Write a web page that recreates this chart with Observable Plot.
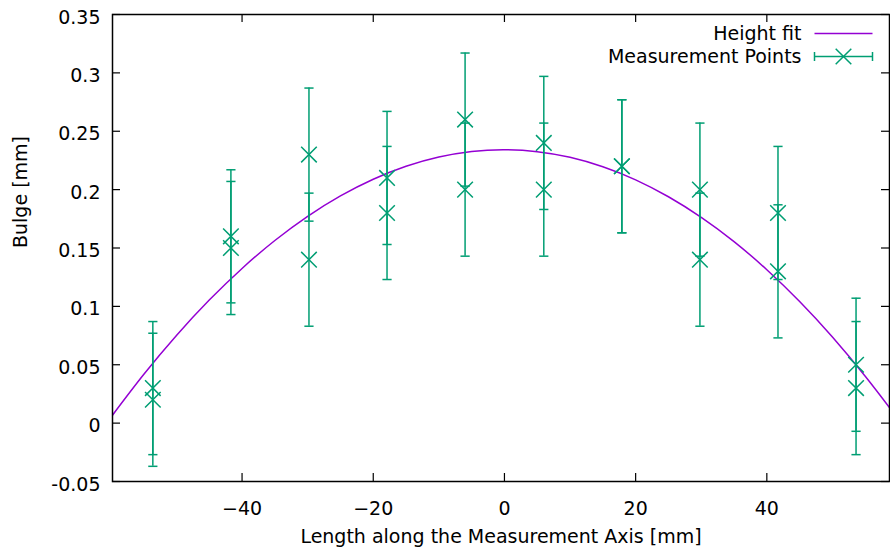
<!DOCTYPE html>
<html>
<head>
<meta charset="utf-8">
<script src="https://cdn.jsdelivr.net/npm/d3@7"></script>
<script src="https://cdn.jsdelivr.net/npm/@observablehq/plot@0.6"></script>
<style>
  html, body { margin: 0; padding: 0; background: #fff; }
  #chart svg { display: block; }
</style>
</head>
<body>
<div id="chart"></div>
<script>
// Measurement positions [mm] (two measurements per position)
const pointX = [-53.6, -53.6, -41.7, -41.7, -29.8, -29.8, -17.9, -17.9, -6.0, -6.0,
                 6.0, 6.0, 17.9, 17.9, 29.8, 29.8, 41.7, 41.7, 53.6, 53.6];
// Measured bulge [mm]
const pointY = [0.03, 0.02, 0.16, 0.15, 0.23, 0.14, 0.21, 0.18, 0.26, 0.20,
                0.24, 0.20, 0.22, 0.22, 0.20, 0.14, 0.18, 0.13, 0.05, 0.03];
// Uncertainty of each measurement [mm]
const pointErr = [0.057, 0.057, 0.057, 0.057, 0.057, 0.057, 0.057, 0.057, 0.057, 0.057,
                  0.057, 0.057, 0.057, 0.057, 0.057, 0.057, 0.057, 0.057, 0.057, 0.057];

// Height fit curve
const fitX = [-59.75, -55, -50, -45, -40, -35, -30, -25, -20, -15, -10, -5, 0,
              5, 10, 15, 20, 25, 30, 35, 40, 45, 50, 55, 58.7];
const fitY = [0.0068, 0.0416, 0.0751, 0.1054, 0.1325, 0.1564, 0.1771, 0.1946, 0.2089, 0.2200, 0.2279, 0.2327, 0.2342,
              0.2325, 0.2277, 0.2196, 0.2084, 0.1939, 0.1763, 0.1555, 0.1314, 0.1042, 0.0738, 0.0402, 0.0133];

// Axis ticks
const xTicks = [-40, -20, 0, 20, 40];
const yTicks = [-0.05, 0, 0.05, 0.1, 0.15, 0.2, 0.25, 0.3, 0.35];
const xDomain = [-59.75, 58.7];
const yDomain = [-0.05, 0.35];

const seriesNames = ["Height fit", "Measurement Points"];
const fitColor = "#9400d3";
const ptColor = "#009e73";

const points = pointX.map((x, i) => ({x, y: pointY[i], e: pointErr[i]}));
const fit = fitX.map((x, i) => ({x, y: fitY[i]}));

const W = 890, H = 554;
const mL = 112, mR = 1, mT = 14, mB = 73;
const pw = W - mL - mR, ph = H - mT - mB;
const tk = 8;
const FS = 19;
const FONT = "DejaVu Sans, sans-serif";

const crossSym = { draw(ctx) { const r = 7.8; ctx.moveTo(-r, -r); ctx.lineTo(r, r); ctx.moveTo(-r, r); ctx.lineTo(r, -r); } };
const capSym = { draw(ctx) { ctx.moveTo(-4.6, 0); ctx.lineTo(4.6, 0); } };
const legLineSym = { draw(ctx) { ctx.moveTo(-29, 0); ctx.lineTo(29, 0); } };
const legErrSym = { draw(ctx) {
  ctx.moveTo(-29, 0); ctx.lineTo(29, 0);
  ctx.moveTo(-29, -4.6); ctx.lineTo(-29, 4.6);
  ctx.moveTo(29, -4.6); ctx.lineTo(29, 4.6);
} };

const chart = Plot.plot({
  width: W, height: H,
  marginLeft: mL, marginRight: mR, marginTop: mT, marginBottom: mB,
  style: { fontFamily: FONT, fontSize: FS + "px", color: "#000", background: "#fff" },
  x: { domain: xDomain },
  y: { domain: yDomain },
  marks: [
    // tick labels
    Plot.axisX(xTicks, { anchor: "bottom", tickSize: 0, tickPadding: 20, fontSize: FS, label: null }),
    Plot.axisY(yTicks, { anchor: "left", tickSize: 0, tickPadding: 12, fontSize: FS, label: null, dy: 3, tickFormat: d => String(d) }),
    // inward ticks on all four sides
    Plot.tickX(xTicks, { x: d => d, insetTop: ph - tk, stroke: "#000", strokeWidth: 1.2 }),
    Plot.tickX(xTicks, { x: d => d, insetBottom: ph - tk, stroke: "#000", strokeWidth: 1.2 }),
    Plot.tickY(yTicks, { y: d => d, insetRight: pw - tk, stroke: "#000", strokeWidth: 1.2 }),
    Plot.tickY(yTicks, { y: d => d, insetLeft: pw - tk, stroke: "#000", strokeWidth: 1.2 }),
    // axis labels
    Plot.text(["Length along the Measurement Axis [mm]"], { frameAnchor: "bottom", dy: 61, fontSize: FS, fill: "#000" }),
    Plot.text(["Bulge [mm]"], { frameAnchor: "left", dx: -92, rotate: -90, fontSize: FS, fill: "#000" }),
    // fit curve
    Plot.line(fit, { x: "x", y: "y", stroke: fitColor, strokeWidth: 1.5, curve: "natural", clip: true }),
    // error bars
    Plot.ruleX(points, { x: "x", y1: d => d.y - d.e, y2: d => d.y + d.e, stroke: ptColor, strokeWidth: 1.5 }),
    Plot.dot(points, { x: "x", y: d => d.y - d.e, symbol: capSym, stroke: ptColor, fill: "none", strokeWidth: 1.5 }),
    Plot.dot(points, { x: "x", y: d => d.y + d.e, symbol: capSym, stroke: ptColor, fill: "none", strokeWidth: 1.5 }),
    // markers
    Plot.dot(points, { x: "x", y: "y", symbol: crossSym, stroke: ptColor, fill: "none", strokeWidth: 1.5 }),
    // legend
    Plot.text([seriesNames[0]], { frameAnchor: "top-right", dx: -88, dy: 19, textAnchor: "end", lineAnchor: "middle", fontSize: FS, fill: "#000" }),
    Plot.text([seriesNames[1]], { frameAnchor: "top-right", dx: -88, dy: 42, textAnchor: "end", lineAnchor: "middle", fontSize: FS, fill: "#000" }),
    Plot.dot([0], { frameAnchor: "top-right", dx: -46, dy: 19, symbol: legLineSym, stroke: fitColor, fill: "none", strokeWidth: 1.5 }),
    Plot.dot([0], { frameAnchor: "top-right", dx: -46, dy: 42, symbol: legErrSym, stroke: ptColor, fill: "none", strokeWidth: 1.5 }),
    Plot.dot([0], { frameAnchor: "top-right", dx: -46, dy: 42, symbol: crossSym, stroke: ptColor, fill: "none", strokeWidth: 1.5 }),
    // frame
    Plot.frame({ stroke: "#000", strokeWidth: 1.5 })
  ]
});
document.getElementById("chart").appendChild(chart);
</script>
</body>
</html>
